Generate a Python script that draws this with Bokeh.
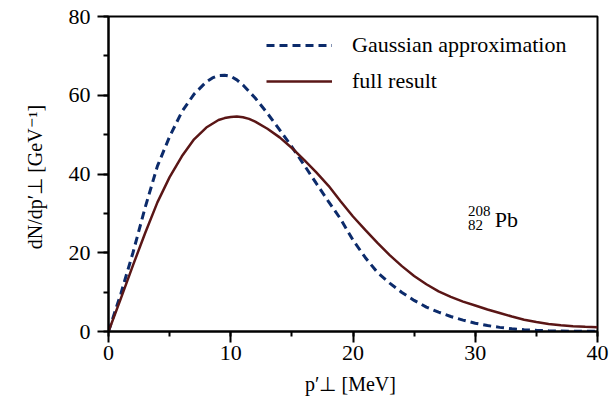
from bokeh.plotting import figure
from bokeh.models import Range1d, Legend, LegendItem, Label, SingleIntervalTicker
from bokeh.embed import file_html
from bokeh.resources import INLINE

# data
x_gauss = [0, 1, 2, 3, 4, 5, 6, 7, 8, 8.5, 9, 9.5, 10, 10.5, 11, 12, 13, 14, 15, 16, 17, 18, 19, 20,
           21, 22, 23, 24, 25, 26, 27, 28, 29, 30, 31, 32, 33, 34, 35, 36, 37, 38, 39, 40]
y_gauss = [0, 9.5, 20, 31.5, 42, 49.5, 55.8, 60.3, 63.4, 64.4, 65.0, 65.1, 64.8, 63.9, 62.6,
           59.3, 55.4, 51.2, 46.9, 42.3, 37.6, 33.0, 28.5, 23.2, 18.8, 15.0, 12.3, 9.9, 7.9,
           6.2, 4.9, 3.8, 2.9, 2.1, 1.5, 1.05, 0.7, 0.45, 0.3, 0.2, 0.12, 0.08, 0.05, 0.03]

x_full = [0, 1, 2, 3, 4, 5, 6, 7, 8, 9, 9.5, 10, 10.5, 11, 11.5, 12, 13, 14, 15, 16, 17, 18, 19, 20,
          21, 22, 23, 24, 25, 26, 27, 28, 29, 30, 31, 32, 33, 34, 35, 36, 37, 38, 39, 40]
y_full = [0, 8.3, 16.8, 25.0, 32.8, 39.2, 44.5, 48.8, 51.8, 53.7, 54.2, 54.5, 54.6, 54.4, 54.0,
          53.3, 51.5, 49.3, 46.6, 43.6, 40.4, 37.0, 33.0, 29.2, 25.8, 22.5, 19.4, 16.6, 14.1,
          12.0, 10.2, 8.8, 7.6, 6.6, 5.6, 4.7, 3.8, 3.0, 2.4, 1.9, 1.6, 1.35, 1.2, 1.1]

series_labels = ["Gaussian approximation", "full result"]
x_label = "p′⊥  [MeV]"
y_label = "dN/dp′⊥   [GeV⁻¹]"

SERIF = "Liberation Serif"
NAVY = "#0c2b6b"
MAROON = "#5a1616"

p = figure(frame_width=489, frame_height=315, min_border_left=108, min_border_right=17,
           min_border_top=16, min_border_bottom=67,
           x_range=Range1d(0, 40), y_range=Range1d(0, 80),
           output_backend="svg", toolbar_location=None)
p.background_fill_color = "white"
p.border_fill_color = "white"
p.xgrid.visible = False
p.ygrid.visible = False
p.outline_line_color = "black"
p.outline_line_width = 2

r_gauss = p.line(x_gauss, y_gauss, line_color=NAVY, line_width=3, line_dash="8 5")
r_full = p.line(x_full, y_full, line_color=MAROON, line_width=2.5)

for ax in (p.xaxis[0], p.yaxis[0]):
    ax.axis_line_width = 2
    ax.axis_line_color = "black"
    ax.major_tick_line_width = 2
    ax.minor_tick_line_width = 2
    ax.major_tick_out = 11
    ax.major_tick_in = 0
    ax.minor_tick_out = 5
    ax.minor_tick_in = 0
    ax.major_label_text_font = SERIF
    ax.major_label_text_font_size = "22px"
    ax.major_label_text_color = "black"
    ax.axis_label_text_font = SERIF
    ax.axis_label_text_font_size = "20px"
    ax.axis_label_text_font_style = "normal"
    ax.axis_label_text_color = "black"

p.xaxis.ticker = SingleIntervalTicker(interval=10, num_minor_ticks=2)
p.yaxis.ticker = SingleIntervalTicker(interval=20, num_minor_ticks=2)
p.xaxis.major_label_standoff = 3
p.yaxis.major_label_standoff = 7
p.xaxis.axis_label = x_label
p.yaxis.axis_label = y_label
p.xaxis.axis_label_standoff = 10
p.yaxis.axis_label_standoff = 20

legend = Legend(items=[LegendItem(label=series_labels[0], renderers=[r_gauss]),
                       LegendItem(label=series_labels[1], renderers=[r_full])],
                location=(158, 237))
legend.border_line_color = None
legend.background_fill_alpha = 0
legend.label_text_font = SERIF
legend.label_text_font_size = "22px"
legend.label_text_color = "black"
legend.glyph_width = 66
legend.glyph_height = 22
legend.label_height = 22
legend.label_standoff = 20
legend.spacing = 10
legend.padding = 0
legend.margin = 0
p.add_layout(legend)

# nuclide label 208/82 Pb
p.add_layout(Label(x=29.4, y=30.6, text="208", text_font=SERIF, text_font_size="15px",
                   text_color="black", text_baseline="alphabetic"))
p.add_layout(Label(x=29.4, y=27.0, text="82", text_font=SERIF, text_font_size="15px",
                   text_color="black", text_baseline="alphabetic"))
p.add_layout(Label(x=31.6, y=28.4, text="Pb", text_font=SERIF, text_font_size="22px",
                   text_color="black", text_baseline="alphabetic"))

open("out.html", "w").write(file_html(p, INLINE))
